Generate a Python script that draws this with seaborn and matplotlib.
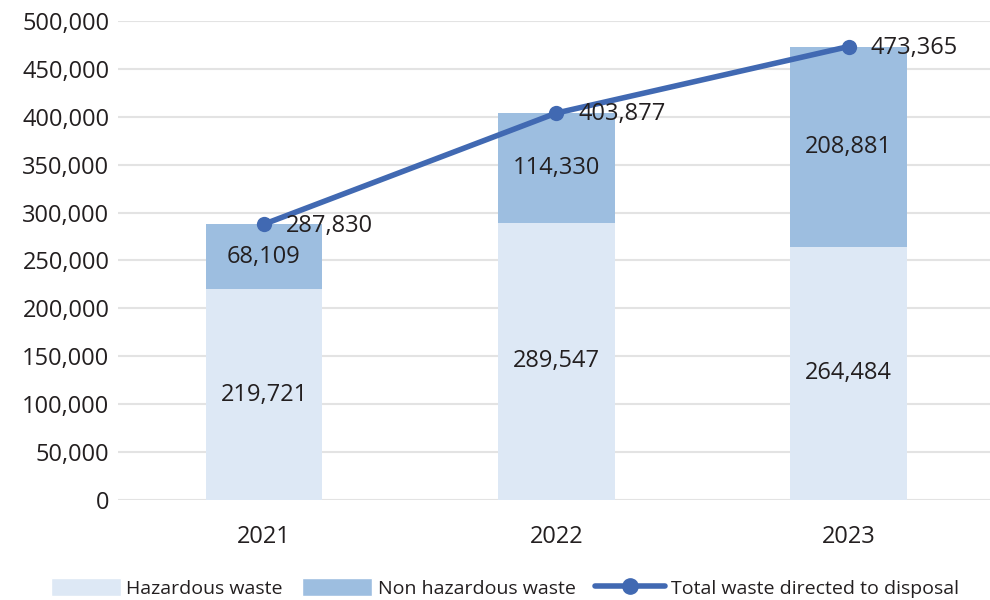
import pandas as pd
import matplotlib
matplotlib.use("Agg")
import matplotlib.pyplot as plt
import seaborn as sns
from matplotlib.patches import Patch
from matplotlib.lines import Line2D

years = ["2021", "2022", "2023"]
hazardous = [219721, 289547, 264484]
non_hazardous = [68109, 114330, 208881]
total = [287830, 403877, 473365]

df = pd.DataFrame({"year": years, "hazardous": hazardous,
                   "non_hazardous": non_hazardous, "total": total})

sns.set_theme(style="white")
plt.rcParams["font.family"] = ["Open Sans", "DejaVu Sans"]

c_haz = "#DDE8F5"
c_non = "#9DBEE0"
c_line = "#4169B2"
txt = "#231F20"

fig = plt.figure(figsize=(9.9, 6), dpi=100)
ax = fig.add_axes([0.119, 0.167, 0.886, 0.798])

sns.barplot(data=df, x="year", y="hazardous", color=c_haz, width=0.4,
            saturation=1, linewidth=0, ax=ax, zorder=2)
sns.barplot(data=df, x="year", y="non_hazardous", bottom=df["hazardous"],
            color=c_non, width=0.4, saturation=1, linewidth=0, ax=ax, zorder=2)
sns.lineplot(data=df, x="year", y="total", color=c_line, linewidth=4,
             marker="o", markersize=11, markeredgewidth=0, ax=ax, zorder=3,
             sort=False)

for i in range(len(years)):
    ax.text(i, hazardous[i] / 2, f"{hazardous[i]:,}", ha="center", va="center",
            fontsize=17, color=txt, zorder=4)
    ax.text(i, hazardous[i] + non_hazardous[i] / 2, f"{non_hazardous[i]:,}",
            ha="center", va="center", fontsize=17, color=txt, zorder=4)
    ax.annotate(f"{total[i]:,}", (i, total[i]), xytext=(16, -1),
                textcoords="offset points", ha="left", va="center",
                fontsize=17, color=txt, zorder=4)

ax.set_xlim(-0.5, 2.5)
ax.set_ylim(0, 500000)
ax.set_yticks(range(0, 500001, 50000))
ax.set_yticklabels([f"{v:,}" for v in range(0, 500001, 50000)])
ax.yaxis.grid(True, color="#E3E3E3", linewidth=1.5, zorder=0)
ax.set_axisbelow(True)
ax.set_xlabel("")
ax.set_ylabel("")
for s in ax.spines.values():
    s.set_visible(False)
ax.tick_params(axis="both", length=0, labelsize=17, labelcolor=txt)
ax.tick_params(axis="x", pad=18)
ax.tick_params(axis="y", pad=6)

handles = [
    Patch(facecolor=c_haz, label="Hazardous waste"),
    Patch(facecolor=c_non, label="Non hazardous waste"),
    Line2D([0], [0], color=c_line, linewidth=4, marker="o", markersize=11,
           label="Total waste directed to disposal"),
]
fig.legend(handles=handles, loc="lower center", bbox_to_anchor=(0.51, -0.025),
           ncol=3, frameon=False, fontsize=14, handlelength=3.6,
           handleheight=1.1, columnspacing=1.0, handletextpad=0.3,
           labelcolor=txt)

fig.savefig("out.png", dpi=100)
